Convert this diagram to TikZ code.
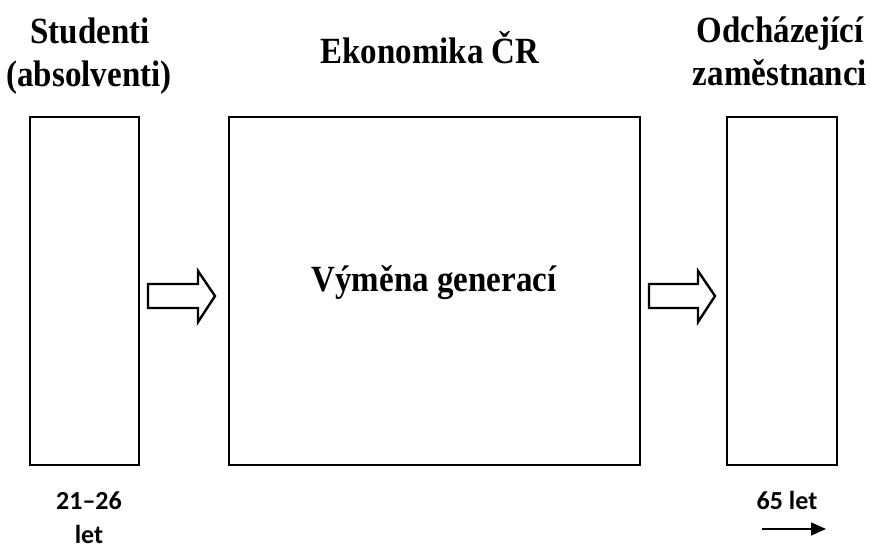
\documentclass[tikz,border=0pt]{standalone}
\usepackage{fontspec}
\setmainfont{Liberation Serif}
\newfontfamily\calfont{Carlito}
\usetikzlibrary{arrows.meta}
\newcommand{\ttlfont}[1]{{\fontsize{33}{36}\selectfont\bfseries\scalebox{1}[1.12]{#1}}}
\tikzset{
  box/.style={draw, line width=2.4pt, minimum width=#1, minimum height=348pt, inner sep=0pt},
  ttl/.style={inner sep=0pt, anchor=base},
  lbl/.style={inner sep=0pt, anchor=base, font=\calfont\fontsize{26}{28}\selectfont\bfseries},
  blockarrow/.style={draw, line width=2.4pt, line join=miter, fill=white}
}
\begin{document}
\begin{tikzpicture}[x=1pt,y=-1pt]
\useasboundingbox (0,0) rectangle (870,549);
% boxes
\node[box=109pt] (left) at (84.5,291) {};
\node[box=411pt] (mid) at (434.5,291) {};
\node[box=110pt] (right) at (782,291) {};
% titles
\node[ttl] (t1) at (90,43) {\ttlfont{Studenti}};
\node[ttl] (t2) at (89,86) {\ttlfont{(absolventi)}};
\node[ttl] (t3) at (430,63) {\ttlfont{Ekonomika ČR}};
\node[ttl] (t4) at (780,42) {\ttlfont{Odcházející}};
\node[ttl] (t5) at (780,85) {\ttlfont{zaměstnanci}};
\node[ttl] (t6) at (434,291) {\ttlfont{Výměna generací}};
% block arrows
\coordinate (a1) at (148,296);
\draw[blockarrow] (a1) ++(0,-12) -- ++(50,0) -- ++(0,-13) -- ++(17,25) -- ++(-17,26) -- ++(0,-14) -- ++(-50,0) -- cycle;
\coordinate (a2) at (649,296);
\draw[blockarrow] (a2) ++(0,-12) -- ++(49,0) -- ++(0,-13) -- ++(17,25) -- ++(-17,26) -- ++(0,-14) -- ++(-49,0) -- cycle;
% bottom labels
\node[lbl] (b1) at (89,509) {21–26};
\node[lbl] (b2) at (89,543) {let};
\node[lbl] (b3) at (787,509) {65 let};
\coordinate (r1) at (762,529);
\coordinate (r2) at (826,529);
\draw[line width=1.5pt, -{Stealth[length=15pt,width=13pt,inset=0pt]}] (r1) -- (r2);
\end{tikzpicture}
\end{document}
